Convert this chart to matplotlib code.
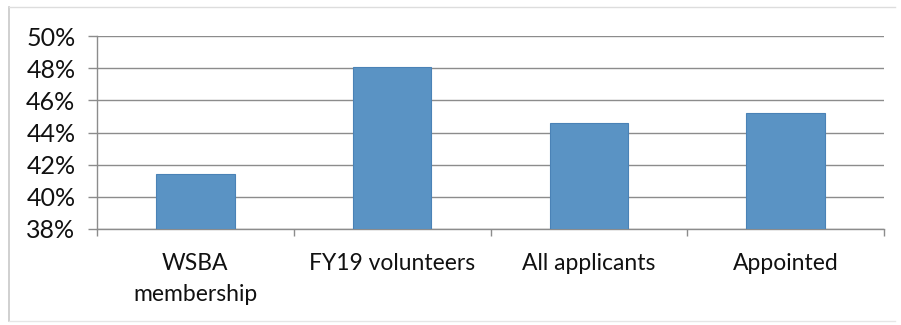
import matplotlib
matplotlib.use("Agg")
import matplotlib.pyplot as plt
from matplotlib.lines import Line2D
import numpy as np

categories = ["WSBA\nmembership", "FY19 volunteers", "All applicants", "Appointed"]
values = [41.4, 48.1, 44.6, 45.2]
yticks = [38, 40, 42, 44, 46, 48, 50]

plt.rcParams['font.family'] = ['Lato', 'DejaVu Sans']

fig = plt.figure(figsize=(9.01, 3.25), dpi=100)
ax = fig.add_axes([97/901, 1-229/325, (884-97)/901, (229-36)/325])

x = np.arange(len(categories))
ax.bar(x, [v - 38 for v in values], bottom=38, width=0.4,
       color='#5A93C4', edgecolor='#4A82B6', linewidth=0.8, zorder=3)

ax.set_xlim(-0.5, len(categories) - 0.5)
ax.set_ylim(38, 50)
ax.set_yticks(yticks)
ax.set_yticklabels([f"{t}%" for t in yticks])
ax.yaxis.grid(True, color='#8c8c8c', linewidth=1.0, zorder=0)
ax.set_axisbelow(True)

ax.set_xticks(x)
ax.set_xticklabels(categories, linespacing=1.6)
ax.set_xticks(np.arange(-0.5, len(categories), 1.0), minor=True)
ax.tick_params(axis='x', which='major', length=0, pad=17, labelsize=16.5, colors='#111111')
ax.tick_params(axis='x', which='minor', length=5, width=1, color='#8c8c8c', direction='out')
ax.tick_params(axis='y', length=6.5, width=1, color='#8c8c8c', pad=9, labelsize=18, labelcolor='#111111')

for s in ['top', 'right']:
    ax.spines[s].set_visible(False)
for s in ['left', 'bottom']:
    ax.spines[s].set_color('#8c8c8c')
    ax.spines[s].set_linewidth(1.0)

# outer chart frame
fc = '#c8c8c8'
fig.add_artist(Line2D([9/901, 9/901], [1-7/325, 1-321/325], color=fc, linewidth=1.2))
fig.add_artist(Line2D([9/901, 895/901], [1-7/325, 1-7/325], color='#dddddd', linewidth=1.0))
fig.add_artist(Line2D([9/901, 895/901], [1-321/325, 1-321/325], color='#e6e6e6', linewidth=1.0))

fig.savefig("out.png", dpi=100)
